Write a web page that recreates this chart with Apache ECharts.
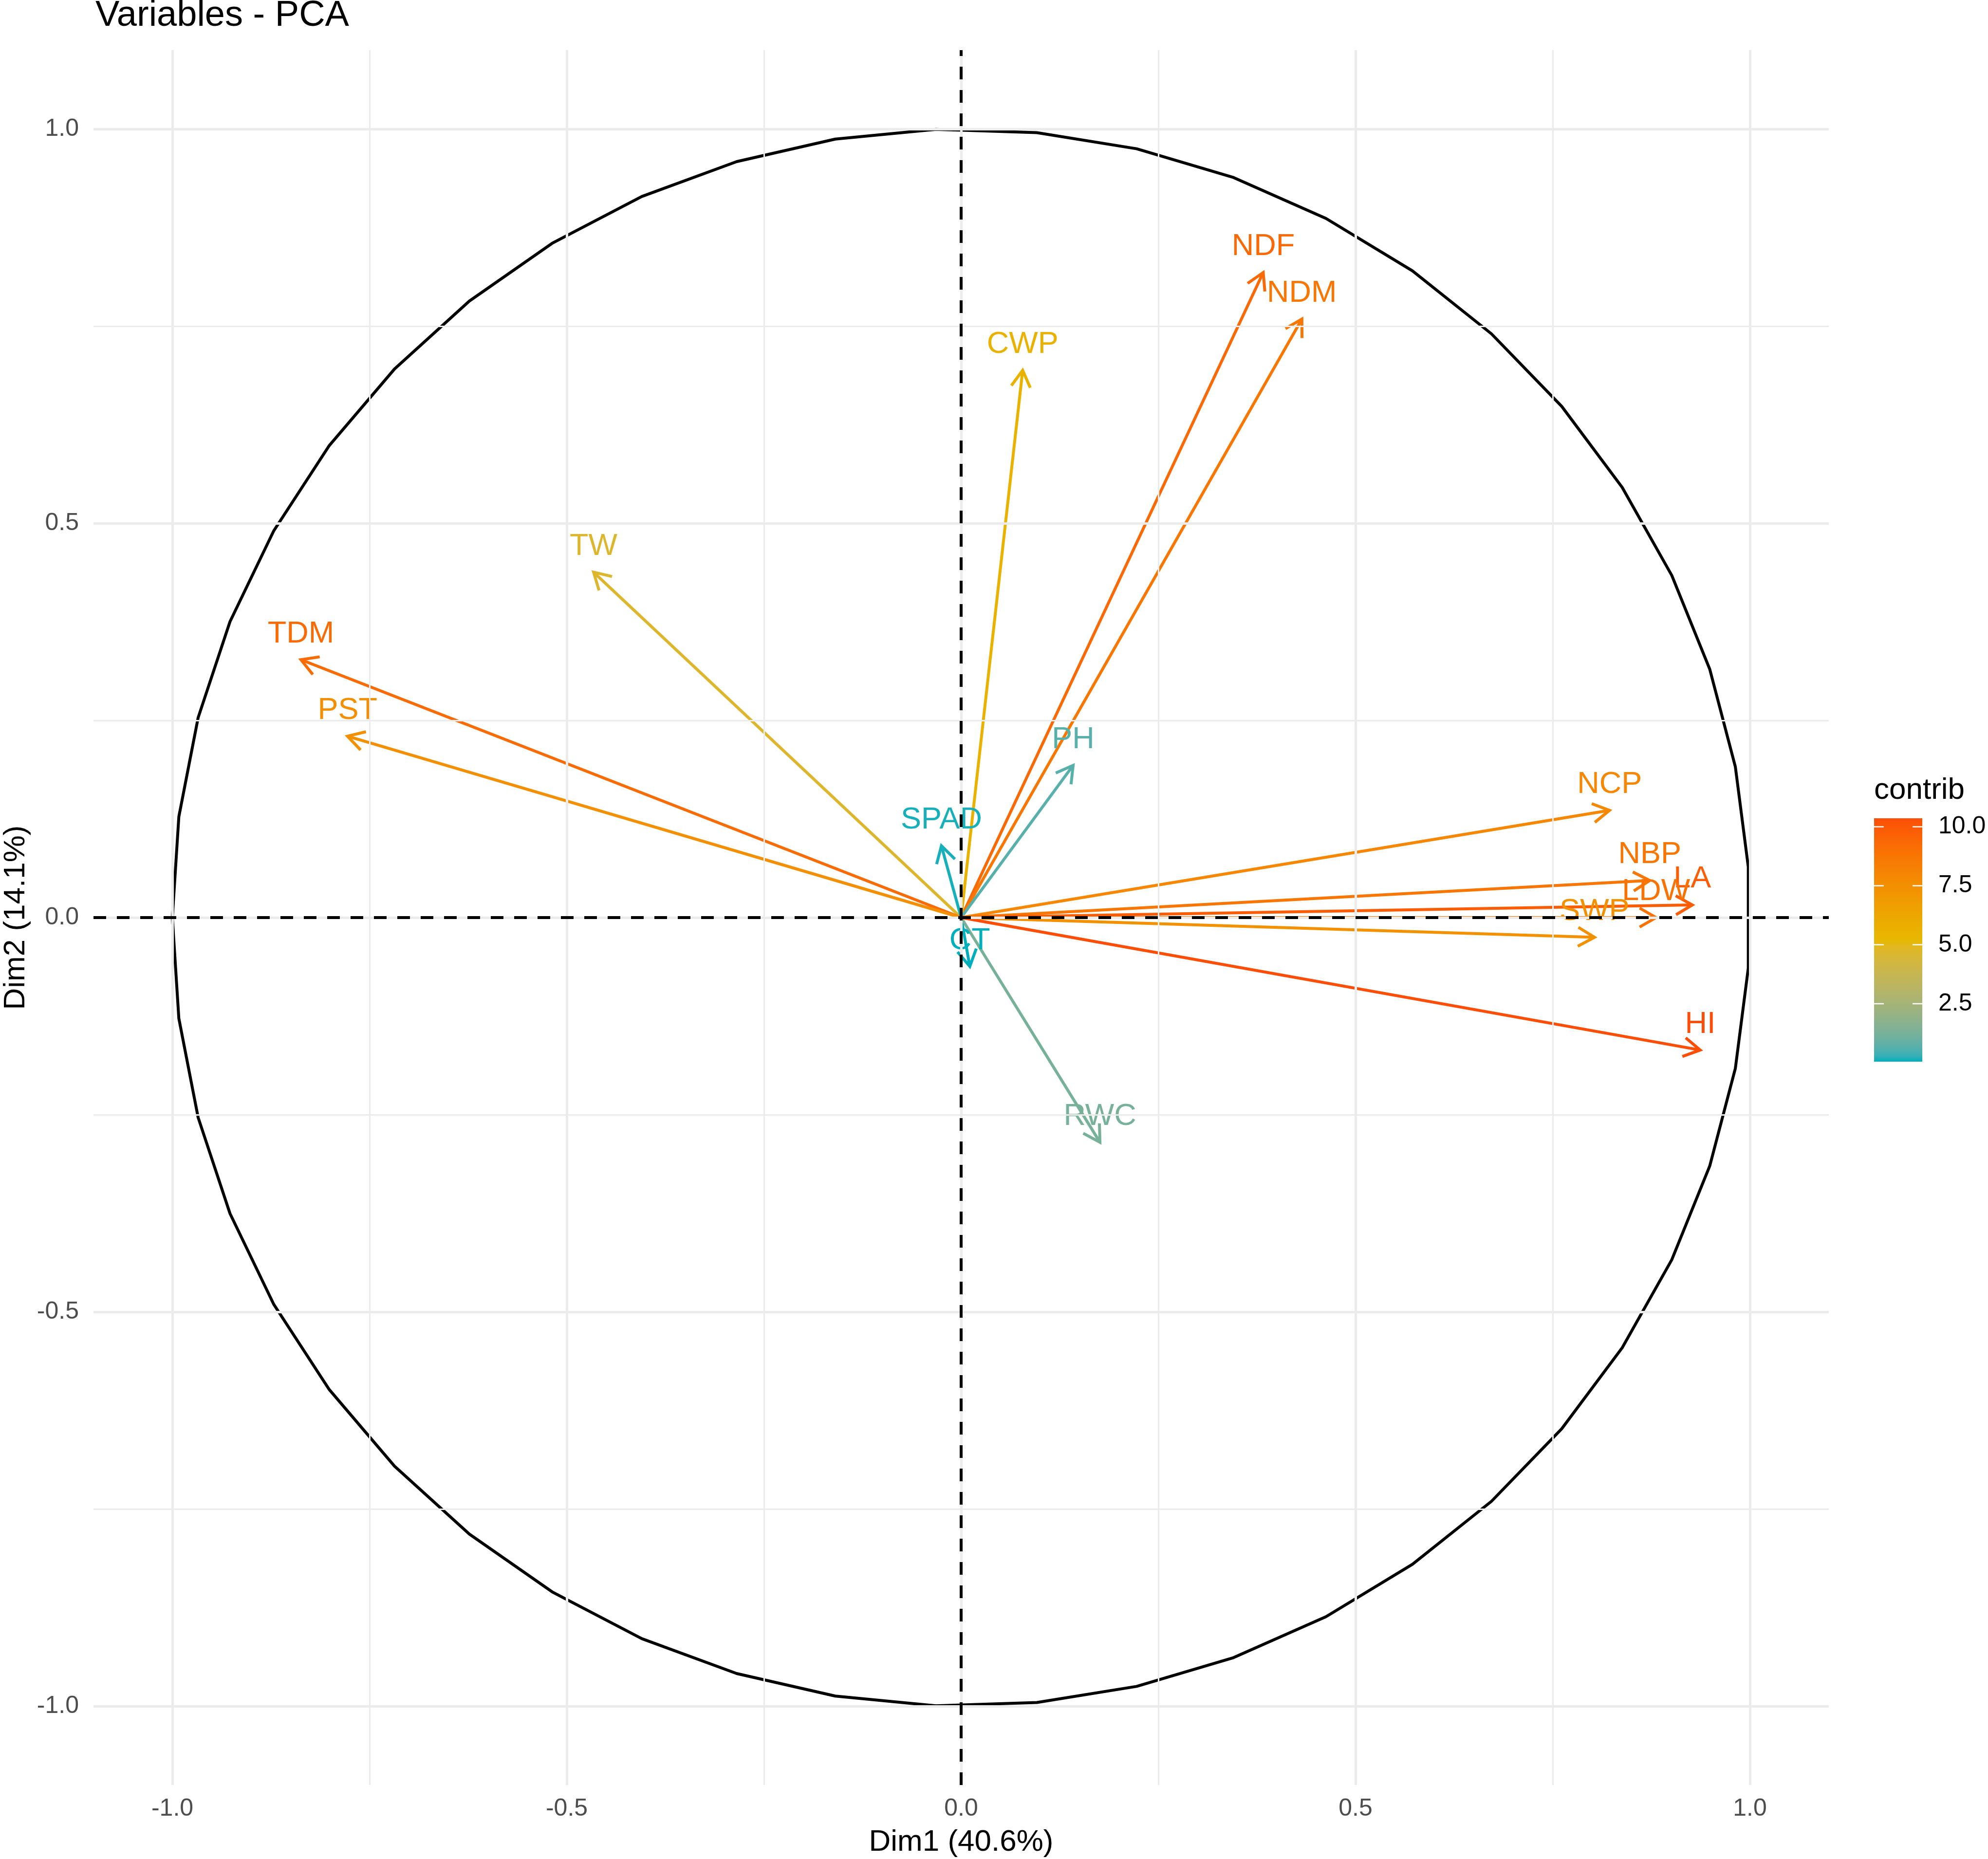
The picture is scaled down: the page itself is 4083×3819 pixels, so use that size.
<!DOCTYPE html>
<html>
<head>
<meta charset="utf-8">
<title>Variables - PCA</title>
<script src="https://cdn.jsdelivr.net/npm/echarts@6/dist/echarts.min.js"></script>
<style>
  html, body { margin: 0; padding: 0; background: #fff; }
  #chart { width: 4083px; height: 3819px; }
</style>
</head>
<body>
<div id="chart"></div>
<script>
// variable coordinates on the first two dimensions
const varNames = ['NDF', 'NDM', 'CWP', 'TW', 'TDM', 'PST', 'PH', 'SPAD', 'CT', 'RWC', 'NCP', 'NBP', 'LA', 'LDW', 'SWP', 'HI'];
const dim1 = [0.383, 0.432, 0.078, -0.466, -0.837, -0.778, 0.142, -0.025, 0.011, 0.176, 0.822, 0.873, 0.927, 0.881, 0.803, 0.937];
const dim2 = [0.818, 0.759, 0.694, 0.438, 0.327, 0.230, 0.193, 0.091, -0.062, -0.285, 0.136, 0.047, 0.016, 0.000, -0.025, -0.168];
// contribution (%) estimated from the colour of each arrow
const contrib = [9.32, 8.71, 5.57, 4.67, 9.23, 7.52, 0.66, 0.10, 0.045, 1.28, 7.93, 8.73, 9.82, 8.87, 7.37, 10.36];

const axisTicks = [-1, -0.5, 0, 0.5, 1];
const minorTicks = [-0.75, -0.25, 0.25, 0.75];
const legendTicks = [2.5, 5, 7.5, 10];
const gradientCols = ['#00AFBB', '#E7B800', '#FC4E07'];

const FONT = '"Liberation Sans", Arial, Helvetica, sans-serif';
const cMin = Math.min(...contrib);
const cMax = Math.max(...contrib);

// colour ramp interpolated in CIELAB, like ggplot's gradientn
const WHITE = [0.95047, 1, 1.08883];
function hexToRgb(hex) {
  const n = parseInt(hex.slice(1), 16);
  return [(n >> 16) & 255, (n >> 8) & 255, n & 255];
}
function toLinear(c) {
  c /= 255;
  return c <= 0.04045 ? c / 12.92 : Math.pow((c + 0.055) / 1.055, 2.4);
}
function fromLinear(c) {
  const v = c <= 0.0031308 ? 12.92 * c : 1.055 * Math.pow(c, 1 / 2.4) - 0.055;
  return Math.round(Math.max(0, Math.min(1, v)) * 255);
}
function rgbToLab(rgb) {
  const [r, g, b] = rgb.map(toLinear);
  const xyz = [
    (0.4124564 * r + 0.3575761 * g + 0.1804375 * b) / WHITE[0],
    (0.2126729 * r + 0.7151522 * g + 0.0721750 * b) / WHITE[1],
    (0.0193339 * r + 0.1191920 * g + 0.9503041 * b) / WHITE[2]
  ];
  const f = xyz.map(t => (t > 216 / 24389 ? Math.cbrt(t) : (24389 / 27 * t + 16) / 116));
  return [116 * f[1] - 16, 500 * (f[0] - f[1]), 200 * (f[1] - f[2])];
}
function labToRgb(lab) {
  const fy = (lab[0] + 16) / 116;
  const fx = fy + lab[1] / 500;
  const fz = fy - lab[2] / 200;
  const inv = t => (t * t * t > 216 / 24389 ? t * t * t : (116 * t - 16) / (24389 / 27));
  const X = inv(fx) * WHITE[0], Y = inv(fy) * WHITE[1], Z = inv(fz) * WHITE[2];
  const r = 3.2404542 * X - 1.5371385 * Y - 0.4985314 * Z;
  const g = -0.9692660 * X + 1.8760108 * Y + 0.0415560 * Z;
  const b = 0.0556434 * X - 0.2040259 * Y + 1.0572252 * Z;
  return 'rgb(' + [r, g, b].map(fromLinear).join(',') + ')';
}
const labStops = gradientCols.map(c => rgbToLab(hexToRgb(c)));
function contribColor(v) {
  const t = Math.max(0, Math.min(1, (v - cMin) / (cMax - cMin)));
  const seg = t < 0.5 ? 0 : 1;
  const u = (t - seg * 0.5) / 0.5;
  const p = labStops[seg], q = labStops[seg + 1];
  return labToRgb([0, 1, 2].map(i => p[i] + (q[i] - p[i]) * u));
}

const barStops = [];
for (let i = 0; i <= 40; i++) {
  barStops.push({ offset: i / 40, color: contribColor(cMin + (cMax - cMin) * i / 40) });
}

// correlation circle, drawn the way factoextra builds it (50 vertices)
const circlePts = [];
for (let i = 0; i < 50; i++) {
  const th = -Math.PI + i * 2 * Math.PI / 49;
  circlePts.push([Math.cos(th), Math.sin(th)]);
}

const arrowData = varNames.map((n, i) => [dim1[i], dim2[i], contrib[i]]);

function gridLine(axis, v, width) {
  return { [axis]: v, lineStyle: { color: '#EBEBEB', width: width, type: 'solid' } };
}
const gridLines = [
  ...minorTicks.map(v => gridLine('xAxis', v, 3)),
  ...minorTicks.map(v => gridLine('yAxis', v, 3)),
  ...axisTicks.map(v => gridLine('xAxis', v, 5)),
  ...axisTicks.map(v => gridLine('yAxis', v, 5))
];

function renderArrow(params, api) {
  const o = api.coord([0, 0]);
  const t = api.coord([api.value(0), api.value(1)]);
  const col = contribColor(api.value(2));
  const ang = Math.atan2(t[1] - o[1], t[0] - o[0]);
  const head = 39, spread = Math.PI / 6;
  const a1 = [t[0] - head * Math.cos(ang - spread), t[1] - head * Math.sin(ang - spread)];
  const a2 = [t[0] - head * Math.cos(ang + spread), t[1] - head * Math.sin(ang + spread)];
  return {
    type: 'group',
    children: [
      { type: 'line', shape: { x1: o[0], y1: o[1], x2: t[0], y2: t[1] },
        style: { stroke: col, lineWidth: 6 } },
      { type: 'polyline', shape: { points: [a1, t, a2] },
        style: { stroke: col, lineWidth: 6, fill: null } }
    ]
  };
}

function renderLabel(params, api) {
  const t = api.coord([api.value(0), api.value(1)]);
  return {
    type: 'text',
    x: t[0],
    y: t[1] - 53,
    style: {
      text: varNames[params.dataIndex],
      fill: contribColor(api.value(2)),
      fontSize: 63,
      fontFamily: FONT,
      align: 'center',
      verticalAlign: 'middle'
    }
  };
}

function renderBar(params, api) {
  const p0 = api.coord([0, cMax]);
  const p1 = api.coord([1, cMin]);
  return {
    type: 'rect',
    shape: { x: p0[0], y: p0[1], width: p1[0] - p0[0], height: p1[1] - p0[1] },
    style: { fill: { type: 'linear', x: 0, y: 1, x2: 0, y2: 0, colorStops: barStops, global: false } }
  };
}

function renderBarTick(params, api) {
  const l = api.coord([0, api.value(1)]);
  const r = api.coord([1, api.value(1)]);
  const len = 20;
  return {
    type: 'group',
    children: [
      { type: 'line', shape: { x1: l[0], y1: l[1], x2: l[0] + len, y2: l[1] }, style: { stroke: '#fff', lineWidth: 2.5 } },
      { type: 'line', shape: { x1: r[0] - len, y1: r[1], x2: r[0], y2: r[1] }, style: { stroke: '#fff', lineWidth: 2.5 } }
    ]
  };
}

const chart = echarts.init(document.getElementById('chart'), null, { renderer: 'canvas' });

const mainAxis = (name, gap, margin) => ({
  type: 'value',
  gridIndex: 0,
  min: -1.1,
  max: 1.1,
  name: name,
  nameLocation: 'middle',
  nameGap: gap,
  nameTextStyle: { fontSize: 62, color: '#000', fontFamily: FONT },
  axisLine: { show: false },
  axisTick: { show: true, customValues: axisTicks, length: 15, lineStyle: { color: '#333', width: 4 } },
  axisLabel: {
    customValues: axisTicks,
    formatter: v => Number(v).toFixed(1),
    fontSize: 50,
    color: '#4D4D4D',
    fontFamily: FONT,
    margin: margin
  },
  splitLine: { show: false },
  minorSplitLine: { show: false }
});

chart.setOption({
  animation: false,
  backgroundColor: '#fff',
  textStyle: { fontFamily: FONT },
  title: [
    { text: 'Variables - PCA', left: 196, top: -4, padding: 0,
      textStyle: { fontSize: 74, fontWeight: 'normal', color: '#000', fontFamily: FONT } },
    { text: 'contrib', left: 3849, top: 1593, padding: 0,
      textStyle: { fontSize: 62, fontWeight: 'normal', color: '#000', fontFamily: FONT } }
  ],
  grid: [
    { left: 192, top: 103, width: 3564, height: 3564, outerBoundsMode: 'none' },
    { left: 3849, top: 1681, width: 99, height: 500, outerBoundsMode: 'none' }
  ],
  xAxis: [
    mainAxis('Dim1 (40.6%)', 87, 24),
    { type: 'value', gridIndex: 1, min: 0, max: 1, show: false }
  ],
  yAxis: [
    mainAxis('Dim2 (14.1%)', 128, 30),
    {
      type: 'value',
      gridIndex: 1,
      min: cMin,
      max: cMax,
      position: 'right',
      axisLine: { show: false },
      axisTick: { show: false },
      splitLine: { show: false },
      axisLabel: {
        customValues: legendTicks,
        formatter: v => Number(v).toFixed(1),
        fontSize: 50,
        color: '#000',
        fontFamily: FONT,
        margin: 33
      }
    }
  ],
  series: [
    {
      // background grid
      type: 'line',
      xAxisIndex: 0,
      yAxisIndex: 0,
      data: [[0, 0]],
      symbol: 'none',
      lineStyle: { width: 0 },
      silent: true,
      z: 1,
      markLine: {
        silent: true,
        symbol: ['none', 'none'],
        label: { show: false },
        emphasis: { disabled: true },
        animation: false,
        data: gridLines
      }
    },
    {
      type: 'line',
      xAxisIndex: 0,
      yAxisIndex: 0,
      data: circlePts,
      symbol: 'none',
      showSymbol: false,
      silent: true,
      lineStyle: { color: '#000', width: 6 },
      z: 2
    },
    {
      type: 'custom',
      xAxisIndex: 0,
      yAxisIndex: 0,
      data: arrowData,
      renderItem: renderArrow,
      silent: true,
      z: 3
    },
    {
      type: 'custom',
      xAxisIndex: 0,
      yAxisIndex: 0,
      data: arrowData,
      renderItem: renderLabel,
      silent: true,
      z: 4
    },
    {
      // dashed reference lines through the origin
      type: 'line',
      xAxisIndex: 0,
      yAxisIndex: 0,
      data: [[0, 0]],
      symbol: 'none',
      lineStyle: { width: 0 },
      silent: true,
      z: 5,
      markLine: {
        silent: true,
        symbol: ['none', 'none'],
        label: { show: false },
        emphasis: { disabled: true },
        animation: false,
        lineStyle: { color: '#000', width: 6, type: [26, 22] },
        data: [{ xAxis: 0 }, { yAxis: 0 }]
      }
    },
    {
      type: 'custom',
      xAxisIndex: 1,
      yAxisIndex: 1,
      data: [[0.5, cMin]],
      renderItem: renderBar,
      silent: true
    },
    {
      type: 'custom',
      xAxisIndex: 1,
      yAxisIndex: 1,
      data: legendTicks.map(v => [0, v]),
      renderItem: renderBarTick,
      silent: true,
      z: 3
    }
  ]
});
</script>
</body>
</html>
